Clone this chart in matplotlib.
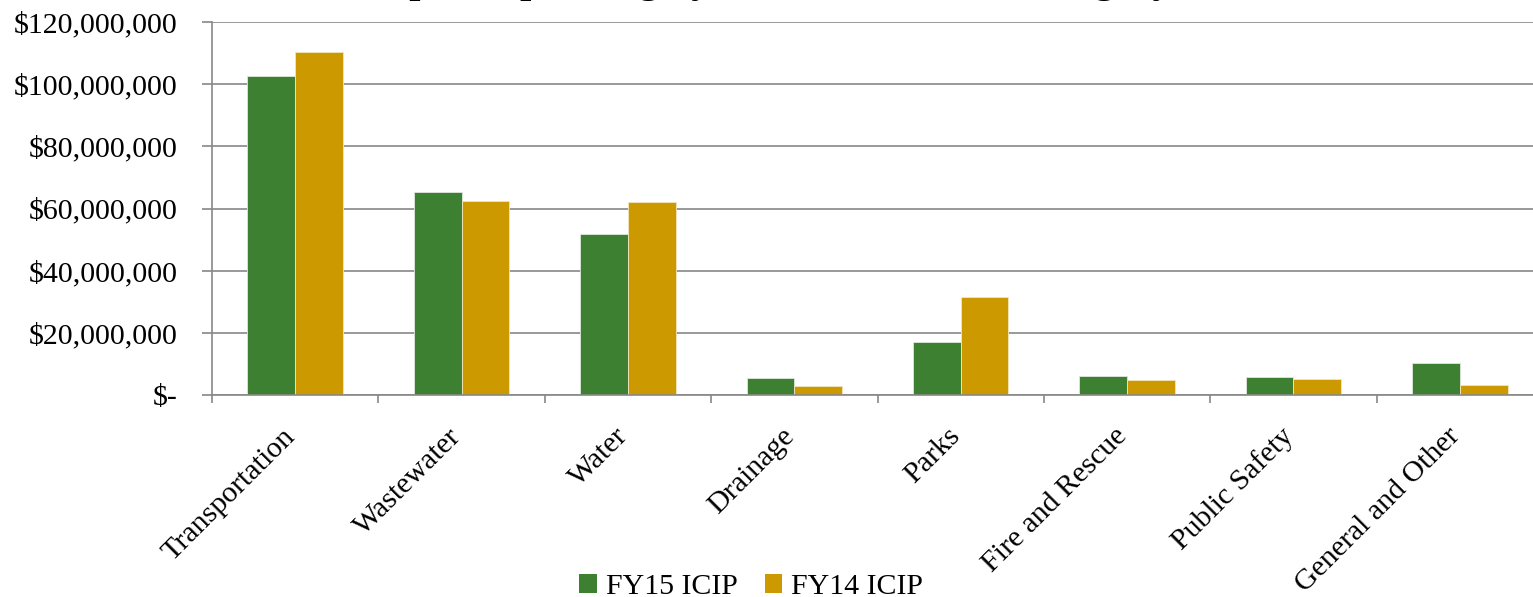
#!/usr/bin/env python3
"""ICIP capital spending by category, FY15 vs FY14 (grouped bars)."""
import numpy as np
import matplotlib as mpl
import matplotlib.pyplot as plt
from matplotlib.patches import Patch
from matplotlib.ticker import FuncFormatter, FixedLocator
from matplotlib.transforms import ScaledTranslation

mpl.rcParams.update({
    "font.family": ["Liberation Serif", "DejaVu Serif"],
    "axes.linewidth": 1.2,
})

CATEGORIES = ["Transportation", "Wastewater", "Water", "Drainage", "Parks",
              "Fire and Rescue", "Public Safety", "General and Other"]
FY15 = [102.6e6, 65.4e6, 51.7e6, 5.5e6, 17.1e6, 6.0e6, 5.9e6, 10.2e6]
FY14 = [110.4e6, 62.4e6, 62.2e6, 2.9e6, 31.6e6, 4.9e6, 5.2e6, 3.1e6]
SERIES = ["FY15 ICIP", "FY14 ICIP"]
TITLE = "Capital Spending by Year, FY15 ICIP Category"

GREEN = "#3d8031"
GOLD = "#cc9900"
GRAY = "#888888"


def money(v, _pos):
    if v == 0:
        return "$-"
    return f"${v:,.0f}"


def plot():
    fig = plt.figure(figsize=(15.33, 5.97), dpi=100)
    ax = fig.add_axes([212 / 1533, 1 - 395 / 597, 1331 / 1533, 373 / 597])

    x = np.arange(len(CATEGORIES))
    w = 0.287
    ax.bar(x - w / 2, FY15, w, color=GREEN, edgecolor="#dfe8dc", linewidth=0.6, zorder=3)
    ax.bar(x + w / 2, FY14, w, color=GOLD, edgecolor="#f3e6c0", linewidth=0.6, zorder=3)

    ax.set_xlim(-0.5, len(CATEGORIES) - 0.5)
    ax.set_ylim(0, 120e6)
    ax.set_yticks(np.arange(0, 120e6 + 1, 20e6))
    ax.yaxis.set_major_formatter(FuncFormatter(money))
    ax.grid(True, axis="y", color=GRAY, linewidth=1.2, zorder=0)

    for side in ("top", "right"):
        ax.spines[side].set_visible(False)
    for side in ("left", "bottom"):
        ax.spines[side].set_color(GRAY)
        ax.spines[side].set_zorder(4)

    ax.tick_params(axis="y", direction="out", length=7, width=1.2, color=GRAY,
                   labelsize=21.5, pad=18)
    ax.set_xticks(x)
    ax.set_xticklabels(CATEGORIES, rotation=45, ha="right", va="center",
                       rotation_mode="anchor", fontsize=21.5)
    ax.tick_params(axis="x", which="major", length=0, pad=27)
    ax.xaxis.set_minor_locator(FixedLocator(np.arange(-0.5, len(CATEGORIES), 1.0)))
    ax.tick_params(axis="x", which="minor", direction="out", length=6, width=1.2, color=GRAY)
    shift = ScaledTranslation(-4 / 100, 0, fig.dpi_scale_trans)
    for lab in ax.get_xticklabels():
        lab.set_transform(lab.get_transform() + shift)

    handles = [Patch(facecolor=GREEN, edgecolor="none"), Patch(facecolor=GOLD, edgecolor="none")]
    fig.legend(handles, SERIES, loc="center", bbox_to_anchor=(0.49, 0.017), ncol=2,
               frameon=False, fontsize=21.5, handlelength=0.6, handleheight=0.6,
               handletextpad=0.3, columnspacing=0.9)

    fig.text(0.5, 1.013, TITLE, ha="center", va="baseline", fontsize=29, fontweight="bold")

    fig.savefig("out.png", dpi=100)


if __name__ == "__main__":
    plot()
